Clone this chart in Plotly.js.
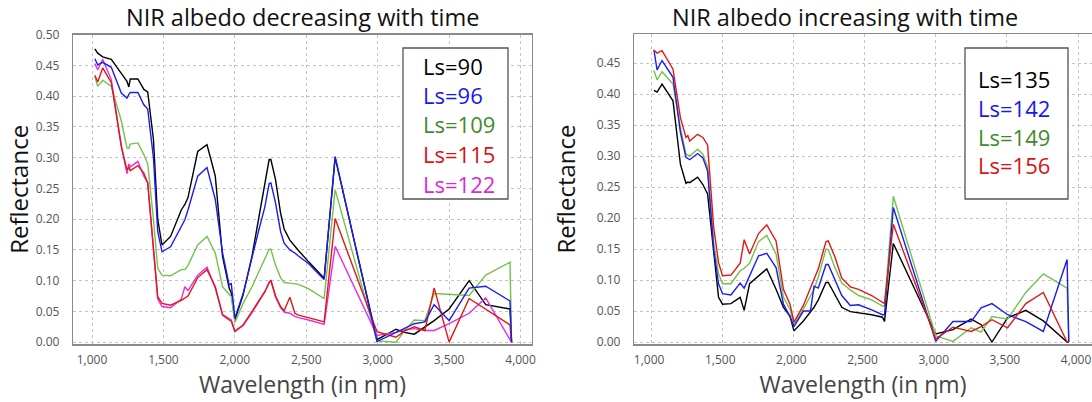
<!DOCTYPE html>
<html>
<head>
<meta charset="utf-8">
<script src="https://cdn.plot.ly/plotly-3.0.1.min.js"></script>
<style>html,body{margin:0;padding:0;background:#fff;}#chart{width:1092px;height:402px;}</style>
</head>
<body>
<div id="chart"></div>
<script>
// ---------- Left panel: NIR albedo decreasing with time ----------
const wlLeft = [1020,1040,1075,1135,1205,1245,1258,1268,1321,1363,1390,1430,1460,1490,1550,1625,1650,1672,1740,1805,1863,1914,1960,1975,2000,2058,2120,2165,2210,2240,2252,2285,2320,2345,2385,2420,2445,2515,2625,2702,2995,3128,3186,3256,3330,3395,3500,3640,3756,3926,3937];
const ls90  = [0.477,0.470,0.464,0.460,0.437,0.424,0.415,0.428,0.428,0.411,0.407,0.330,0.200,0.158,0.172,0.215,0.224,0.235,0.310,0.321,0.270,0.139,0.088,0.080,0.036,0.077,0.140,0.201,0.258,0.297,0.297,0.264,0.210,0.184,0.166,0.155,0.149,0.131,0.104,0.300,0.004,0.021,0.016,0.013,0.025,0.035,0.054,0.100,0.061,0.054,0.000];
const ls96  = [0.461,0.451,0.455,0.447,0.405,0.397,0.403,0.406,0.406,0.386,0.379,0.300,0.180,0.147,0.155,0.190,0.199,0.215,0.270,0.284,0.232,0.145,0.093,0.095,0.039,0.079,0.140,0.180,0.220,0.258,0.259,0.226,0.180,0.161,0.150,0.145,0.140,0.128,0.102,0.302,0.001,0.016,0.022,0.030,0.033,0.061,0.035,0.088,0.091,0.067,0.000];
const ls109 = [0.432,0.416,0.426,0.416,0.360,0.316,0.315,0.322,0.324,0.305,0.290,0.200,0.120,0.109,0.108,0.118,0.118,0.125,0.158,0.172,0.145,0.090,0.078,0.074,0.032,0.063,0.090,0.112,0.135,0.151,0.151,0.125,0.105,0.097,0.096,0.095,0.094,0.087,0.071,0.248,0.002,0.000,0.018,0.036,0.035,0.079,0.078,0.076,0.109,0.130,0.000];
const ls115 = [0.434,0.423,0.446,0.422,0.318,0.280,0.285,0.279,0.287,0.275,0.259,0.150,0.074,0.063,0.060,0.068,0.071,0.075,0.105,0.118,0.090,0.044,0.036,0.034,0.018,0.028,0.050,0.065,0.082,0.097,0.101,0.075,0.058,0.051,0.073,0.047,0.044,0.040,0.033,0.201,0.017,0.008,0.018,0.025,0.019,0.088,0.000,0.071,0.054,0.028,0.000];
const ls122 = [0.453,0.443,0.460,0.427,0.320,0.274,0.290,0.285,0.294,0.270,0.259,0.150,0.070,0.058,0.056,0.070,0.090,0.084,0.109,0.122,0.088,0.045,0.038,0.036,0.017,0.027,0.048,0.065,0.082,0.097,0.100,0.073,0.056,0.049,0.047,0.042,0.040,0.036,0.029,0.156,0.011,0.016,0.020,0.022,0.019,0.019,0.030,0.047,0.072,0.004,0.000];

// ---------- Right panel: NIR albedo increasing with time ----------
const wlRight = [1020,1042,1077,1154,1206,1245,1258,1271,1327,1364,1397,1440,1474,1502,1561,1626,1654,1692,1755,1813,1878,1930,1976,2004,2070,2120,2145,2175,2229,2245,2292,2340,2400,2458,2550,2626,2640,2702,3000,3121,3249,3319,3395,3505,3633,3756,3923,3935];
const ls135 = [0.406,0.403,0.416,0.389,0.287,0.256,0.258,0.257,0.266,0.254,0.239,0.142,0.072,0.061,0.062,0.072,0.051,0.094,0.107,0.118,0.085,0.056,0.042,0.018,0.034,0.050,0.056,0.068,0.096,0.096,0.075,0.056,0.049,0.047,0.044,0.040,0.033,0.159,0.013,0.020,0.037,0.028,0.000,0.039,0.051,0.034,0.000,0.000];
const ls142 = [0.471,0.439,0.454,0.427,0.338,0.298,0.296,0.294,0.304,0.297,0.276,0.150,0.094,0.078,0.076,0.095,0.087,0.107,0.139,0.143,0.120,0.061,0.041,0.025,0.050,0.050,0.090,0.087,0.125,0.125,0.099,0.075,0.059,0.060,0.052,0.044,0.044,0.217,0.001,0.033,0.033,0.055,0.062,0.044,0.033,0.017,0.133,0.000];
const ls149 = [0.438,0.423,0.436,0.416,0.346,0.303,0.302,0.300,0.311,0.303,0.283,0.160,0.110,0.094,0.094,0.115,0.119,0.127,0.162,0.172,0.142,0.072,0.053,0.029,0.053,0.075,0.085,0.105,0.150,0.149,0.120,0.095,0.084,0.075,0.068,0.058,0.058,0.235,0.010,0.001,0.023,0.016,0.041,0.037,0.080,0.110,0.087,0.000];
const ls156 = [0.471,0.466,0.470,0.440,0.362,0.330,0.333,0.324,0.335,0.330,0.318,0.185,0.128,0.107,0.108,0.127,0.165,0.142,0.175,0.189,0.163,0.085,0.061,0.032,0.059,0.088,0.100,0.118,0.162,0.163,0.137,0.103,0.089,0.085,0.075,0.064,0.062,0.190,0.005,0.024,0.017,0.025,0.036,0.023,0.062,0.080,0.000,0.000];

const leftNames = ['Ls=90','Ls=96','Ls=109','Ls=115','Ls=122'];
const rightNames = ['Ls=135','Ls=142','Ls=149','Ls=156'];
const xTicks = [1000,1500,2000,2500,3000,3500,4000];

const C = {black:'#000000', blue:'#1c1cf0', green:'#74c24c', red:'#e01818', magenta:'#e030e0'};
const TXT = {black:'#000000', blue:'#1515f5', green:'#3f8a2c', red:'#e01010', magenta:'#d82ad8'};

function line(x, y, color, xa, ya, name) {
  return {x: x, y: y, type: 'scatter', mode: 'lines', name: name, xaxis: xa, yaxis: ya,
          line: {color: color, width: 1.4}, showlegend: false, hoverinfo: 'x+y'};
}

const traces = [
  line(wlLeft, ls90,  C.black,   'x', 'y', leftNames[0]),
  line(wlLeft, ls109, C.green,   'x', 'y', leftNames[2]),
  line(wlLeft, ls122, C.magenta, 'x', 'y', leftNames[4]),
  line(wlLeft, ls115, C.red,     'x', 'y', leftNames[3]),
  line(wlLeft, ls96,  C.blue,    'x', 'y', leftNames[1]),
  line(wlRight, ls135, C.black, 'x2', 'y2', rightNames[0]),
  line(wlRight, ls149, C.green, 'x2', 'y2', rightNames[2]),
  line(wlRight, ls142, C.blue,  'x2', 'y2', rightNames[1]),
  line(wlRight, ls156, C.red,   'x2', 'y2', rightNames[3])
];

const FONT = 'Open Sans, Noto Sans, sans-serif';
const W = 1092, H = 402;
const px = v => v / W;
const py = v => 1 - v / H;

function xAxis(domain, range, anchor, shift) {
  return {domain: domain, range: range, anchor: anchor, tickvals: xTicks, tickformat: ',d',
          showgrid: true, gridcolor: '#c4c4c4', griddash: 'dot', gridwidth: 1,
          showline: true, linecolor: '#8a8a8a', linewidth: 1.5, mirror: true,
          zeroline: false, ticks: '', ticklabelstandoff: 4, ticklabelshift: shift,
          tickfont: {family: FONT, size: 12, color: '#555'},
          title: {text: 'Wavelength (in \u03b7m)', font: {family: FONT, size: 23, color: '#444'}, standoff: 6}};
}
function yAxis(domain, range, anchor, standoff) {
  return {domain: domain, range: range, anchor: anchor, dtick: 0.05, tick0: 0, tickformat: '.2f',
          showgrid: true, gridcolor: '#c4c4c4', griddash: 'dot', gridwidth: 1,
          showline: true, linecolor: '#8a8a8a', linewidth: 1.2, mirror: true,
          zeroline: false, ticks: '', ticklabelstandoff: 10,
          tickfont: {family: FONT, size: 12, color: '#555'},
          title: {text: 'Reflectance', font: {family: FONT, size: 24, color: '#111'}, standoff: standoff}};
}

const annotations = [
  {text: 'NIR albedo decreasing with time', xref: 'paper', yref: 'paper', x: px(302), y: py(17),
   xanchor: 'center', yanchor: 'middle', showarrow: false, font: {family: FONT, size: 23.5, color: '#111'}},
  {text: 'NIR albedo increasing with time', xref: 'paper', yref: 'paper', x: px(845), y: py(17),
   xanchor: 'center', yanchor: 'middle', showarrow: false, font: {family: FONT, size: 23.5, color: '#111'}}
];
const leftCols = [TXT.black, TXT.blue, TXT.green, TXT.red, TXT.magenta];
leftNames.forEach((n, i) => annotations.push({text: n, xref: 'paper', yref: 'paper', x: px(421), y: py(65.5 + i * 29.5),
  xanchor: 'left', yanchor: 'middle', showarrow: false, font: {family: FONT, size: 22, color: leftCols[i]}}));
const rightCols = [TXT.black, TXT.blue, TXT.green, TXT.red];
rightNames.forEach((n, i) => annotations.push({text: n, xref: 'paper', yref: 'paper', x: px(976), y: py(79.5 + i * 28.6),
  xanchor: 'left', yanchor: 'middle', showarrow: false, font: {family: FONT, size: 22, color: rightCols[i]}}));

const shapes = [
  {type: 'rect', xref: 'paper', yref: 'paper', x0: px(403), x1: px(508), y0: py(199), y1: py(48),
   line: {color: '#555', width: 1.3}, fillcolor: '#ffffff', layer: 'above'},
  {type: 'rect', xref: 'paper', yref: 'paper', x0: px(965), x1: px(1068), y0: py(199), y1: py(48),
   line: {color: '#555', width: 1.3}, fillcolor: '#ffffff', layer: 'above'}
];

const layout = {
  width: W, height: H, margin: {l: 0, r: 0, t: 0, b: 0},
  paper_bgcolor: '#fff', plot_bgcolor: '#fff', showlegend: false,
  xaxis: xAxis([px(73), px(532)], [867, 4080], 'y', 0),
  yaxis: yAxis([1 - 344 / H, 1 - 34.7 / H], [-0.003, 0.5], 'x', 0),
  xaxis2: xAxis([px(634), 1.0], [880, 4098], 'y2', -2),
  yaxis2: yAxis([1 - 344 / H, 1 - 34 / H], [-0.0032, 0.4968], 'x2', 14),
  annotations: annotations,
  shapes: shapes
};

Plotly.newPlot('chart', traces, layout, {displayModeBar: false, staticPlot: true});
</script>
</body>
</html>
